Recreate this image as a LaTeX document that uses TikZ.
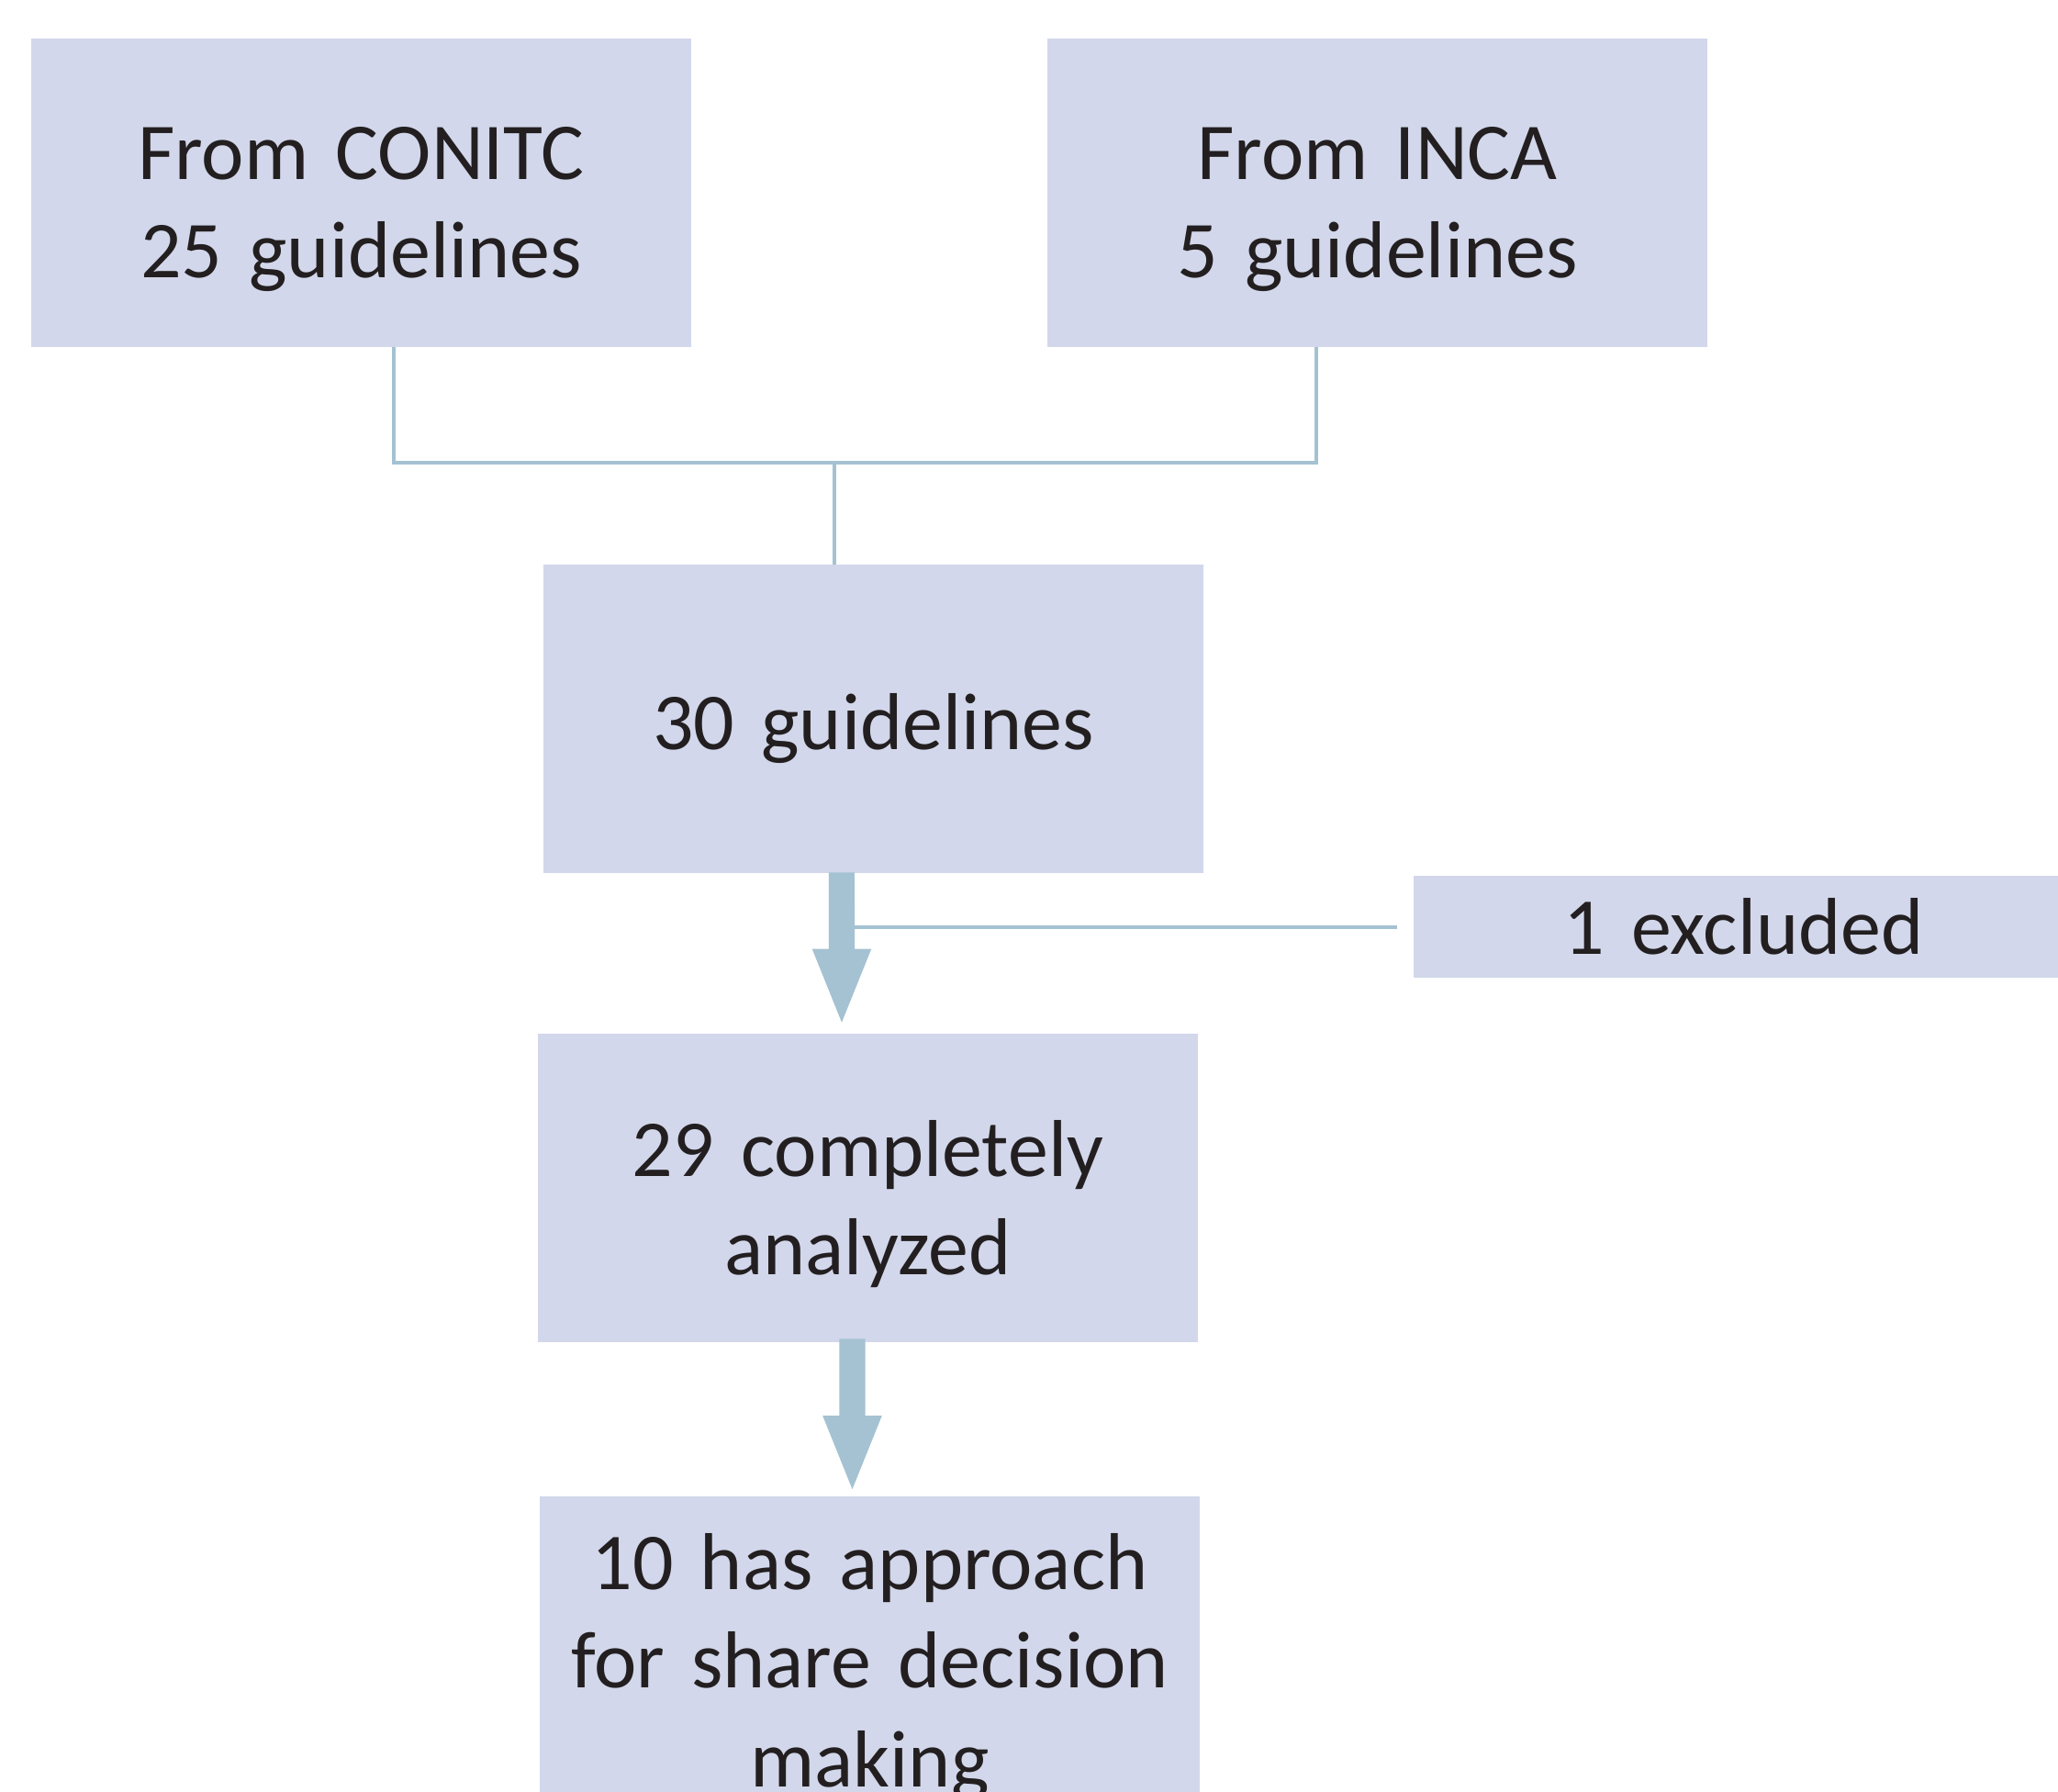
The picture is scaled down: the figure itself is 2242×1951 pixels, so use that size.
\documentclass[tikz,border=0pt]{standalone}
\usepackage{fontspec}
\setmainfont{Carlito}
\usetikzlibrary{arrows.meta, calc}
\usepackage{xcolor}
\definecolor{boxfill}{RGB}{210,215,235}
\definecolor{linkblue}{RGB}{164,194,210}
\definecolor{inkgray}{RGB}{35,31,32}

\begin{document}
\begin{tikzpicture}[x=0.01cm, y=-0.01cm,
	box/.style={fill=boxfill, text=inkgray, align=center, inner sep=0pt,
		minimum width=7.19cm, minimum height=3.35cm, text width=7cm,
		font=\fontsize{25}{30.5}\selectfont},
	link/.style={draw=linkblue, line width=0.04cm},
	bigarrow/.style={draw=linkblue, line width=0.28cm,
		-{Triangle[length=0.85cm, width=0.57cm, fill=linkblue]}}]
	\useasboundingbox (0,0) rectangle (2242,1951);
	\node [box, text height=0.93cm] (conitc) at (393.5,210) {From CONITC\\25 guidelines};
	\node [box, text height=0.93cm] (inca) at (1500.5,210) {From INCA\\5 guidelines};
	\node [box, text height=0.82cm] (total) at (951.5,783) {30 guidelines};
	\node [box, minimum height=1.11cm] (excl) at (1899.5,1009.5) {1 excluded};
	\node [box, text height=0.96cm] (analyzed) at (945.5,1294) {29 completely\\analyzed};
	\node [box, minimum height=3.72cm, text width=7.1cm] (approach) at (947.5,1816)
		{10 has approach\\for share decision\\making};
	% merging the two sources
	\draw [link] ([xshift=0.355cm]conitc.south) -- ++(0,126) -| ([xshift=-0.665cm]inca.south);
	\draw [link] ([xshift=-0.425cm]total.north) -- ++(0,-112);
	% flow downwards
	\coordinate (shaft) at ($(total.south)+(-20.5,0)$);
	\draw [bigarrow] ([xshift=-0.345cm,yshift=0.01cm]total.south) -- ([xshift=-0.285cm,yshift=0.07cm]analyzed.north);
	\draw [link] ([xshift=-0.17cm]excl.west) -- (excl.west -| shaft);
	\draw [bigarrow] ([xshift=-0.17cm,yshift=0.04cm]analyzed.south) -- ([xshift=-0.19cm,yshift=0.02cm]approach.north);
\end{tikzpicture}
\end{document}
